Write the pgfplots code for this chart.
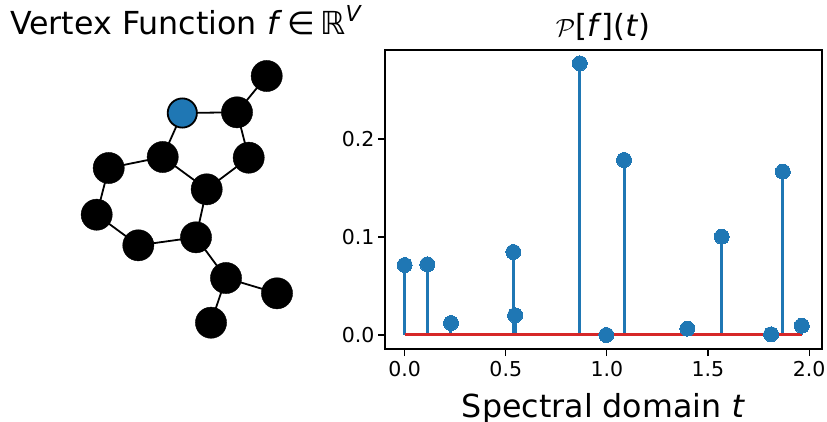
\documentclass[border=0pt]{standalone}
\usepackage{pgfplots}
\pgfplotsset{compat=1.18}
\usepackage{fontspec}
\setmainfont{DejaVu Sans}
\definecolor{mblue}{HTML}{1F77B4}
\definecolor{mred}{HTML}{D62728}
\begin{document}
\begin{tikzpicture}[x=1pt,y=1pt]
\path[use as bounding box] (0,0) rectangle (827,421);
% graph
\begin{axis}[
  at={(0,0)},anchor=south west,scale only axis,width=827pt,height=421pt,
  xmin=0,xmax=827,ymin=0,ymax=421,y dir=reverse,hide axis,clip=false]
\addplot[black,line width=1.8pt,no marks] coordinates {
(266.7,76) (237,112.3)

(237,112.3) (182.3,113)

(237,112.3) (248.7,157.7)

(182.3,113) (162.7,157)

(248.7,157.7) (206.7,189.3)

(162.7,157) (206.7,189.3)

(162.7,157) (108.7,168)

(108.7,168) (96.7,214.7)

(96.7,214.7) (138.3,245.3)

(138.3,245.3) (196,237.3)

(196,237.3) (206.7,189.3)

(196,237.3) (226,278)

(226,278) (277,293.3)

(226,278) (211,322.7)
};
\addplot[only marks,mark=*,mark size=15.6pt,mark options={fill=black,draw=black,line width=0.4pt}] coordinates {
(266.7,76) (237,112.3) (248.7,157.7) (162.7,157) (206.7,189.3) (108.7,168)
(96.7,214.7) (138.3,245.3) (196,237.3) (226,278) (277,293.3) (211,322.7)
};
\addplot[only marks,mark=*,mark size=14.6pt,mark options={fill=mblue,draw=black,line width=1.8pt}] coordinates {(182.3,113)};
\end{axis}
% spectrum
\begin{axis}[
  at={(385pt,72pt)},anchor=south west,scale only axis,width=437pt,height=299pt,
  xmin=-0.0974,xmax=2.064,ymin=-0.0143,ymax=0.2908,
  xtick={0,0.5,1,1.5,2},ytick={0,0.1,0.2},
  xticklabels={0.0,0.5,1.0,1.5,2.0},yticklabels={0.0,0.1,0.2},
  tick align=outside,tickwidth=7pt,
  xtick pos=bottom,ytick pos=left,
  tick style={black,line width=1.1pt},
  axis line style={black,line width=1.4pt},
  ticklabel style={font=\fontsize{20.5}{24}\selectfont},
  xticklabel style={yshift=-2pt},
  /pgf/number format/assume math mode=true,
  clip=false]
\addplot[ycomb,mblue,line width=3pt,mark=*,mark size=7.5pt,mark options={fill=mblue,draw=mblue,line width=0pt}] coordinates {
(0,0.0714) (0.112,0.0721) (0.229,0.0122) (0.5375,0.0847) (0.546,0.0201)
(0.866,0.2772) (0.9975,0) (1.085,0.1786) (1.398,0.0065) (1.568,0.1003)
(1.812,0.0007) (1.870,0.1667) (1.964,0.0095)
};
\addplot[mred,line width=3pt,no marks] coordinates {(0,0) (1.964,0)};
\end{axis}
\node[anchor=base west,inner sep=0pt,font=\fontsize{31.7}{36}\selectfont] at (10,386) {Vertex Function \textit{f}\,∈\,ℝ\raisebox{0.42em}{\fontsize{22}{26}\selectfont\textit{V}}};
\node[anchor=base,inner sep=0pt,font=\fontsize{30.5}{36}\selectfont] at (603,384) {$\mathcal{P}$[\textit{f}](\textit{t})};
\node[anchor=base,inner sep=0pt,font=\fontsize{31.7}{36}\selectfont] at (603.5,4) {Spectral domain \textit{t}};
\end{tikzpicture}
\end{document}
